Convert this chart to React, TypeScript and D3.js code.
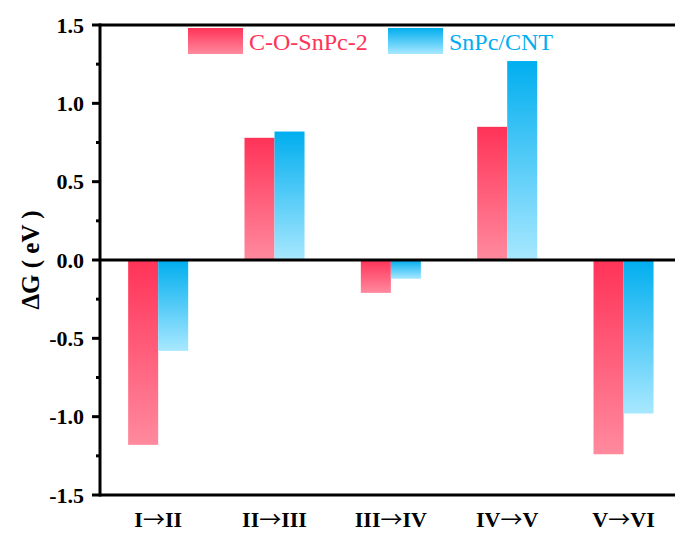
import React from "react";
import * as d3 from "d3";

// Reaction steps and free-energy changes (eV)
const steps = ["I→II", "II→III", "III→IV", "IV→V", "V→VI"];
const seriesNames = ["C-O-SnPc-2", "SnPc/CNT"];
const coSnPc2 = [-1.18, 0.78, -0.21, 0.85, -1.24];
const snPcCnt = [-0.58, 0.82, -0.12, 1.27, -0.98];
const yTicks = [-1.5, -1.0, -0.5, 0.0, 0.5, 1.0, 1.5];
const yMinorTicks = [-1.25, -0.75, -0.25, 0.25, 0.75, 1.25];

const W = 675;
const H = 534;
const left = 100;
const top = 25;
const bottom = 495;
const right = 681.7;

const seriesColors = [
  { id: "gradRed", top: "#FF3358", bottom: "#FF8A9E", text: "#FF3358" },
  { id: "gradBlue", top: "#00AEEF", bottom: "#A8E8FF", text: "#00AEEF" },
];

const serif = "'Liberation Serif', 'Times New Roman', serif";
const arrowFont = "'Noto Sans CJK SC', 'DejaVu Serif', serif";

// Renders a step label with a full-width arrow glyph
function StepLabel({ label, x, y }: { label: string; x: number; y: number }) {
  const [a, b] = label.split("→");
  return (
    <text x={x} y={y} textAnchor="middle" fontSize={22} fontWeight="bold" style={{ fontFamily: serif }}>
      <tspan>{a}</tspan>
      <tspan style={{ fontFamily: arrowFont }} fontWeight="normal">→</tspan>
      <tspan>{b}</tspan>
    </text>
  );
}

export default function App() {
  const y = d3.scaleLinear().domain([-1.5, 1.5]).range([bottom, top]);
  const x = d3
    .scaleBand<string>()
    .domain(steps)
    .range([left, right])
    .paddingInner(0.484)
    .paddingOuter(0.242);
  const xs = d3
    .scaleBand<string>()
    .domain(seriesNames)
    .range([0, x.bandwidth()]);
  const values = [coSnPc2, snPcCnt];

  return (
    <svg
      width={W}
      height={H}
      style={{ position: "absolute", left: 0, top: 0, background: "#fff", fontFamily: serif }}
    >
      <defs>
        {seriesColors.map((c) => (
          <linearGradient key={c.id} id={c.id} x1="0" y1="0" x2="0" y2="1">
            <stop offset="0" stopColor={c.top} />
            <stop offset="1" stopColor={c.bottom} />
          </linearGradient>
        ))}
      </defs>

      {/* bars */}
      {seriesNames.map((s, si) =>
        steps.map((st, i) => {
          const v = values[si][i];
          const y0 = y(0);
          const y1 = y(v);
          return (
            <rect
              key={s + st}
              x={(x(st) ?? 0) + (xs(s) ?? 0)}
              y={Math.min(y0, y1)}
              width={xs.bandwidth()}
              height={Math.abs(y1 - y0)}
              fill={`url(#${seriesColors[si].id})`}
            />
          );
        })
      )}

      {/* frame lines */}
      <line x1={left} x2={W} y1={top} y2={top} stroke="#000" strokeWidth={3} />
      <line x1={left} x2={W} y1={bottom} y2={bottom} stroke="#000" strokeWidth={3} />
      <line x1={left} x2={W} y1={y(0)} y2={y(0)} stroke="#000" strokeWidth={3} />
      <line x1={left} x2={left} y1={top - 1.5} y2={bottom + 1.5} stroke="#000" strokeWidth={3} />

      {/* y ticks */}
      {yTicks.map((t) => (
        <g key={t}>
          <line x1={left - 8} x2={left} y1={y(t)} y2={y(t)} stroke="#000" strokeWidth={3} />
          <text
            x={84}
            y={y(t)}
            dy="0.35em"
            textAnchor="end"
            fontSize={22}
            fontWeight="bold"
          >
            {t.toFixed(1)}
          </text>
        </g>
      ))}
      {yMinorTicks.map((t) => (
        <line key={t} x1={left - 4} x2={left} y1={y(t)} y2={y(t)} stroke="#000" strokeWidth={3} />
      ))}

      {/* x labels */}
      {steps.map((st) => (
        <StepLabel key={st} label={st} x={(x(st) ?? 0) + x.bandwidth() / 2} y={527} />
      ))}

      {/* y axis title */}
      <text
        transform={`translate(39,${y(0)}) rotate(-90)`}
        textAnchor="middle"
        fontSize={25}
        fontWeight="bold"
      >
        ΔG ( eV )
      </text>

      {/* legend */}
      {seriesNames.map((s, si) => {
        const lx = si === 0 ? 188 : 388;
        return (
          <g key={s}>
            <rect x={lx} y={28} width={55} height={26} fill={`url(#${seriesColors[si].id})`} />
            <text x={lx + 61} y={50} fontSize={24} fill={seriesColors[si].text}>
              {s}
            </text>
          </g>
        );
      })}
    </svg>
  );
}
